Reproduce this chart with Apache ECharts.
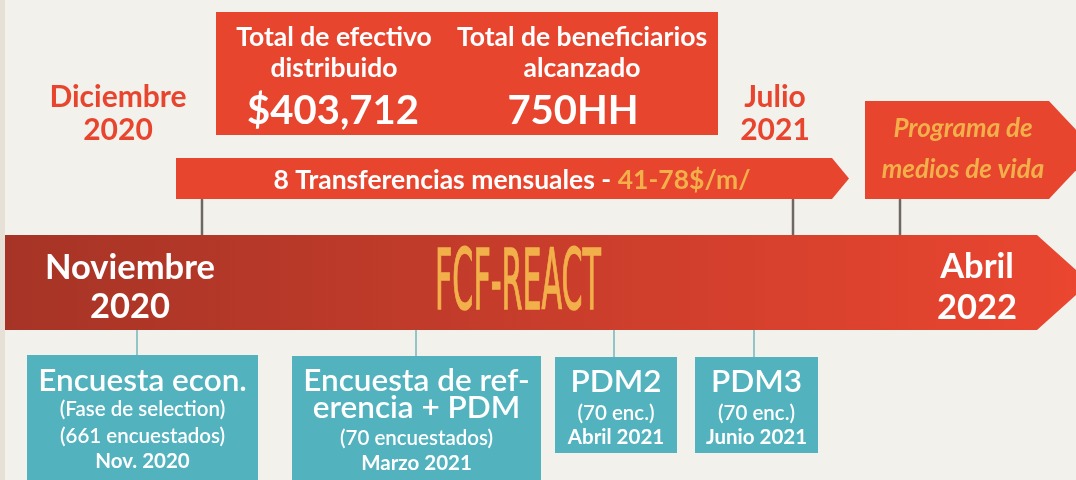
<!DOCTYPE html>
<html>
<head>
<meta charset="utf-8">
<script src="https://cdn.jsdelivr.net/npm/echarts@6/dist/echarts.min.js"></script>
<style>
  html, body { margin: 0; padding: 0; background: #f3f1ec; }
  #main { width: 1076px; height: 480px; }
</style>
</head>
<body>
<div id="main"></div>
<script>
// textos del cronograma
const programName = 'FCF-REACT';
const startLabel = ['Noviembre', '2020'];
const endLabel = ['Abril', '2022'];
const topDates = [['Diciembre', '2020'], ['Julio', '2021']];
const statTitles = [['Total de efectivo', 'distribuido'], ['Total de beneficiarios', 'alcanzado']];
const statValues = ['$403,712', '750HH'];
const transferText = '8 Transferencias mensuales - ';
const transferAmount = '41-78$/m/';
const nextPhase = ['Programa de', 'medios de vida'];
const surveyTitles = [['Encuesta econ.'], ['Encuesta de ref-', 'erencia + PDM'], ['PDM2'], ['PDM3']];
const surveyNotes = [['(Fase de selection)', '(661 encuestados)'], ['(70 encuestados)'], ['(70 enc.)'], ['(70 enc.)']];
const surveyDates = ['Nov. 2020', 'Marzo 2021', 'Abril 2021', 'Junio 2021'];

// posiciones sobre los ejes ocultos (1 unidad = 1 px)
const topStemX = [202, 793, 900];
const surveyStemX = [137, 416, 614, 754];
const surveyBoxes = [[27, 258, 355, 490], [292, 541, 356, 490], [555, 677, 357, 453], [695, 818, 357, 453]];
const surveyLineY = [[381, 409, 436, 461], [381, 408, 438, 463], [382, 413, 437], [382, 413, 437]];

const RED = '#e8452f';
const YELLOW = '#f2b04a';
const TEAL = '#52b3bf';

const chart = echarts.init(document.getElementById('main'));

function pts(api, list) {
  return list.map((p) => api.coord(p));
}

function txt(api, x, y, text, font, fill) {
  const p = api.coord([x, y]);
  return {
    type: 'text',
    style: { text: text, x: p[0], y: p[1], align: 'center', verticalAlign: 'middle', font: font, fill: fill },
  };
}

// ancho del nombre del programa para comprimirlo como fuente condensada
const NAME_FONT = '48px "Liberation Sans Narrow", "DejaVu Sans Condensed", sans-serif';
const measure = document.createElement('canvas').getContext('2d');
measure.font = NAME_FONT;
const nameWidth = measure.measureText(programName).width;

function renderBand(params, api) {
  const poly = pts(api, [[5, 235], [1037, 235], [1090, 282.5], [1037, 330], [5, 330]]);
  const c = api.coord([518, 287]);
  return {
    type: 'group',
    children: [
      {
        type: 'polygon',
        shape: { points: poly },
        style: {
          fill: new echarts.graphic.LinearGradient(0, 0, 1, 0, [
            { offset: 0, color: '#a63426' },
            { offset: 1, color: '#eb4630' },
          ]),
        },
      },
      txt(api, 130, 268, startLabel[0], 'bold 34.5px Lato', '#fff'),
      txt(api, 130, 307, startLabel[1], 'bold 34.5px Lato', '#fff'),
      txt(api, 977, 267, endLabel[0], 'bold 34.5px Lato', '#fff'),
      txt(api, 977, 308, endLabel[1], 'bold 34.5px Lato', '#fff'),
      {
        type: 'text',
        x: c[0],
        y: c[1],
        scaleX: 166 / nameWidth,
        scaleY: 1.75,
        style: {
          text: programName, x: 0, y: 0, align: 'center', verticalAlign: 'middle', font: NAME_FONT,
          fill: YELLOW, stroke: YELLOW, lineWidth: 0.8,
        },
      },
    ],
  };
}

function renderTop(params, api) {
  const box0 = api.coord([216, 12]);
  const box1 = api.coord([718, 135]);
  const children = [];
  topStemX.forEach((x) => {
    const a = api.coord([x, 199]);
    const b = api.coord([x, 235]);
    children.push({ type: 'line', shape: { x1: a[0], y1: a[1], x2: b[0], y2: b[1] }, style: { stroke: '#6d6864', lineWidth: 2.5 } });
  });
  children.push({
    type: 'rect',
    shape: { x: box0[0], y: box0[1], width: box1[0] - box0[0], height: box1[1] - box0[1] },
    style: { fill: RED },
  });
  const statX = [334, 582];
  const valueX = [333, 573];
  statTitles.forEach((t, i) => {
    children.push(txt(api, statX[i], 37, t[0], 'bold 26.5px Lato', '#fff'));
    children.push(txt(api, statX[i], 68, t[1], 'bold 26.5px Lato', '#fff'));
    children.push(txt(api, valueX[i], 111, statValues[i], 'bold 40px Lato', '#fff'));
  });
  const dateX = [118, 775];
  topDates.forEach((d, i) => {
    children.push(txt(api, dateX[i], 97, d[0], 'bold 30px Lato', RED));
    children.push(txt(api, dateX[i], 130, d[1], 'bold 30px Lato', RED));
  });
  children.push({
    type: 'polygon',
    shape: { points: pts(api, [[176, 158], [832, 158], [849, 178.5], [832, 199], [176, 199]]) },
    style: { fill: RED },
  });
  const tc = api.coord([512, 180]);
  children.push({
    type: 'text',
    style: {
      text: '{a|' + transferText + '}{b|' + transferAmount + '}',
      x: tc[0],
      y: tc[1],
      align: 'center',
      verticalAlign: 'middle',
      rich: {
        a: { fontFamily: 'Lato', fontWeight: 'bold', fontSize: 26.5, fill: '#fff' },
        b: { fontFamily: 'Lato', fontWeight: 'bold', fontSize: 26.5, fill: YELLOW },
      },
    },
  });
  children.push({
    type: 'polygon',
    shape: { points: pts(api, [[865, 101], [1049, 101], [1095, 150], [1049, 199], [865, 199]]) },
    style: { fill: RED },
  });
  children.push(txt(api, 963, 129, nextPhase[0], 'italic bold 26px Lato', YELLOW));
  children.push(txt(api, 963, 170, nextPhase[1], 'italic bold 26px Lato', YELLOW));
  return { type: 'group', children: children };
}

function renderSurvey(params, api) {
  const i = params.dataIndex;
  const b = surveyBoxes[i];
  const x = api.value(0);
  const s0 = api.coord([x, 330]);
  const s1 = api.coord([x, b[2]]);
  const p0 = api.coord([b[0], b[2]]);
  const p1 = api.coord([b[1], b[3]]);
  const cx = (b[0] + b[1]) / 2;
  const children = [
    { type: 'line', shape: { x1: s0[0], y1: s0[1], x2: s1[0], y2: s1[1] }, style: { stroke: '#93c5c8', lineWidth: 2 } },
    { type: 'rect', shape: { x: p0[0], y: p0[1], width: p1[0] - p0[0], height: p1[1] - p0[1] }, style: { fill: TEAL } },
  ];
  const ys = surveyLineY[i];
  let k = 0;
  surveyTitles[i].forEach((t) => {
    children.push(txt(api, cx, ys[k++], t, '600 31.5px Lato', '#fff'));
  });
  surveyNotes[i].forEach((t) => {
    children.push(txt(api, cx, ys[k++], t, '600 20.5px Lato', '#fff'));
  });
  children.push(txt(api, cx, ys[k++], surveyDates[i], 'bold 20.5px Lato', '#fff'));
  return { type: 'group', children: children };
}

chart.setOption({
  backgroundColor: '#f3f1ec',
  animation: false,
  grid: { left: 0, right: 0, top: 0, bottom: 0 },
  xAxis: { type: 'value', min: 0, max: 1076, show: false },
  yAxis: { type: 'value', min: 0, max: 480, inverse: true, show: false },
  graphic: [
    { type: 'rect', left: 0, top: 0, shape: { width: 5, height: 480 }, style: { fill: '#e7e0d6' } },
  ],
  series: [
    { type: 'custom', clip: false, renderItem: renderBand, data: [[0, 0]] },
    { type: 'custom', clip: false, renderItem: renderTop, data: [[0, 0]] },
    {
      type: 'custom',
      clip: false,
      renderItem: renderSurvey,
      data: surveyStemX.map((x, i) => [x, i]),
    },
  ],
});
</script>
</body>
</html>
